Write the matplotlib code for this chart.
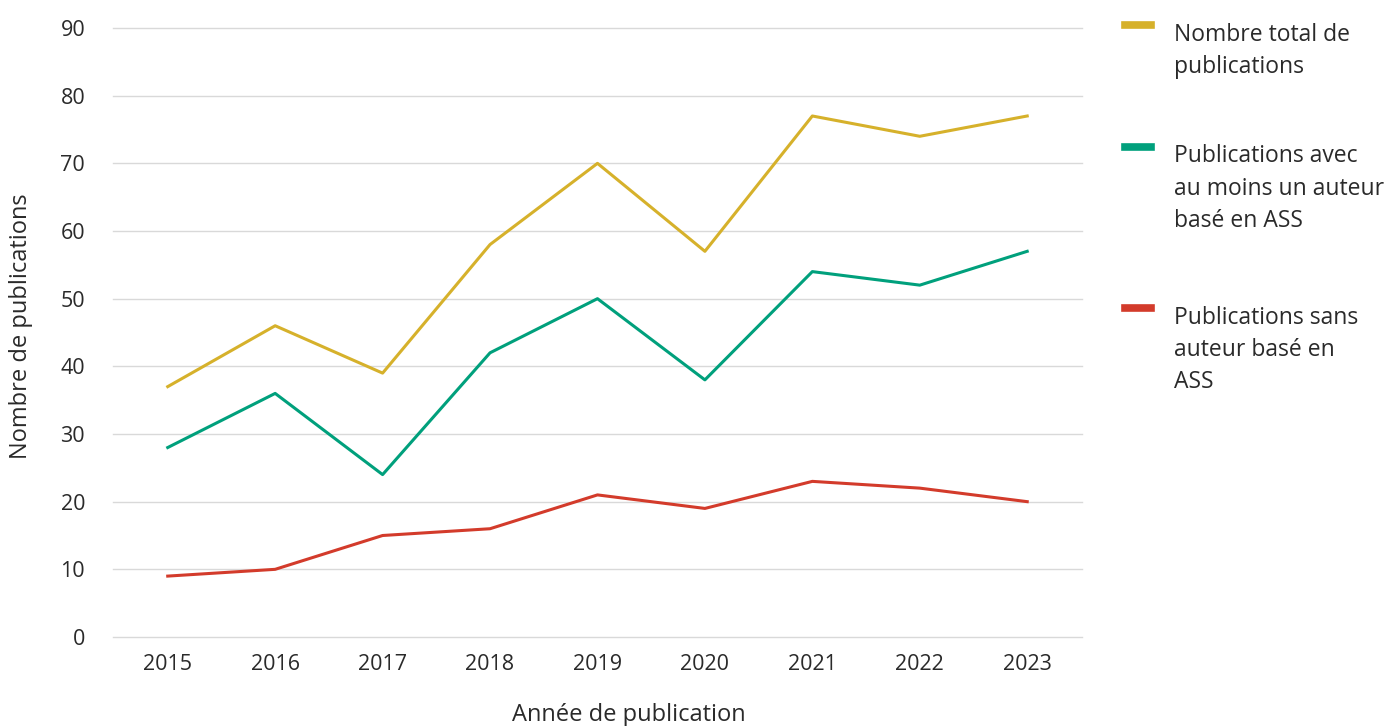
import matplotlib
matplotlib.use('Agg')
import matplotlib.pyplot as plt
from matplotlib.lines import Line2D

plt.rcParams['font.family'] = ['Open Sans', 'DejaVu Sans']

years = ['2015', '2016', '2017', '2018', '2019', '2020', '2021', '2022', '2023']
total = [37, 46, 39, 58, 70, 57, 77, 74, 77]
with_ass = [28, 36, 24, 42, 50, 38, 54, 52, 57]
without_ass = [9, 10, 15, 16, 21, 19, 23, 22, 20]

labels = ['Nombre total de\npublications',
          'Publications avec\nau moins un auteur\nbasé en ASS',
          'Publications sans\nauteur basé en\nASS']
colors = ['#D6B12B', '#00A07C', '#D33B2B']

fig = plt.figure(figsize=(13.84, 7.26), dpi=100)
ax = fig.add_axes([0.0816, 0.1226, 0.7002, 0.8388])

x = range(len(years))
for vals, c in zip([total, with_ass, without_ass], colors):
    ax.plot(x, vals, color=c, linewidth=2.2)

ax.set_xlim(-0.51, 8.51)
ax.set_ylim(0, 90)
ax.set_yticks(range(0, 91, 10))
ax.set_xticks(list(x))
ax.set_xticklabels(years)
ax.grid(axis='y', color='#d9d9d9', linewidth=1)
for gl in ax.get_ygridlines():
    gl.set_clip_on(False)
ax.set_axisbelow(True)
for s in ax.spines.values():
    s.set_visible(False)
ax.tick_params(length=0, labelsize=15.5, labelcolor='#2a2a2a')
ax.tick_params(axis='x', pad=12)
ax.tick_params(axis='y', pad=20)

ax.set_ylabel('Nombre de publications', fontsize=17, color='#2a2a2a')
ax.yaxis.set_label_coords(-0.083, 0.51)
ax.set_xlabel('Année de publication', fontsize=17, color='#2a2a2a')
ax.xaxis.set_label_coords(0.532, -0.108)

# legend drawn by hand
ys = [0.966, 0.798, 0.576]
for lab, c, yy in zip(labels, colors, ys):
    fig.add_artist(Line2D([0.8128, 0.8315], [yy, yy], color=c, linewidth=5.5,
                          transform=fig.transFigure))
    fig.text(0.8485, yy + 0.003, lab, fontsize=16.5, color='#2a2a2a',
             va='top', ha='left', linespacing=1.45)

fig.savefig('out.png', dpi=100)
